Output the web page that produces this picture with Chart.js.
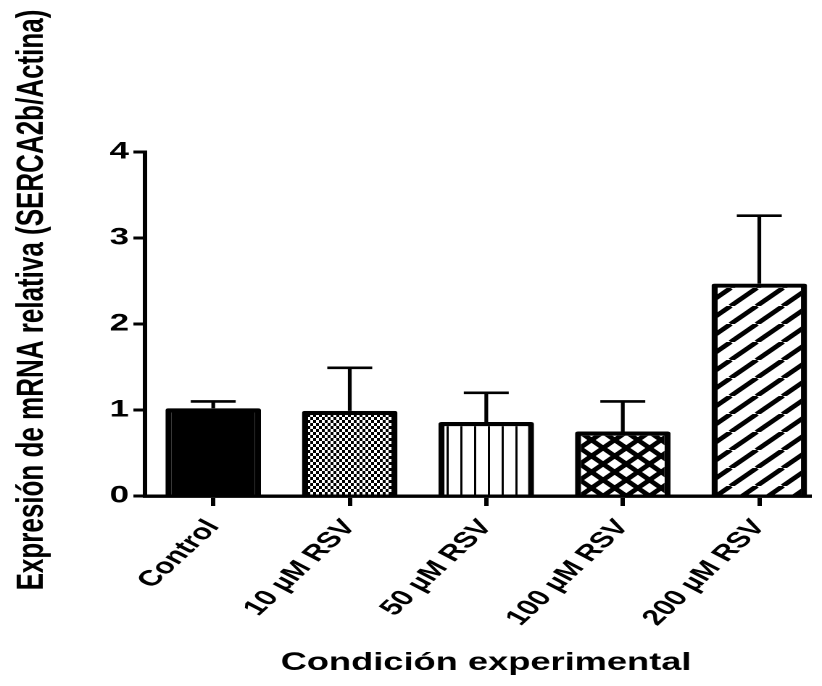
<!DOCTYPE html>
<html>
<head>
<meta charset="utf-8">
<script src="https://cdn.jsdelivr.net/npm/chart.js@4/dist/chart.umd.min.js"></script>
<style>
  html, body { margin: 0; padding: 0; background: #fff; overflow: hidden; }
  /* the figure is drawn at its native width and widened horizontally */
  #frame { width: 567px; height: 686px; transform: scaleX(1.4497); transform-origin: 0 0; }
  #c { display: block; }
</style>
</head>
<body>
<div id="frame"><canvas id="c" width="567" height="686" style="width:567px;height:686px"></canvas></div>
<script>
// Relative SERCA2b mRNA expression per condition (mean and upper SEM)
const categories = ['Control', '10 µM RSV', '50 µM RSV', '100 µM RSV', '200 µM RSV'];
const means = [1.02, 0.99, 0.86, 0.75, 2.47];
const errUp = [0.08, 0.50, 0.34, 0.35, 0.79];
const yTickValues = [0, 1, 2, 3, 4];
const yTitle = 'Expresión de mRNA relativa (SERCA2b/Actina)';
const xTitle = 'Condición experimental';

const DPR = 2;
const FONT = '"Liberation Sans", Arial, Helvetica, sans-serif';

// Fill patterns: tiles are painted at device resolution
function makePattern(w, h, paint) {
  const tile = document.createElement('canvas');
  tile.width = Math.round(w * DPR);
  tile.height = Math.round(h * DPR);
  const t = tile.getContext('2d');
  t.scale(DPR, DPR);
  t.fillStyle = '#fff';
  t.fillRect(0, 0, w, h);
  t.fillStyle = '#000';
  t.strokeStyle = '#000';
  paint(t, w, h);
  const p = t.createPattern(tile, 'repeat');
  p.setTransform(new DOMMatrix().scale(1 / DPR));
  return p;
}

const checker = makePattern(4, 6, (t) => {
  t.fillRect(0, 0, 2, 3);
  t.fillRect(2, 3, 2, 3);
});
const vLines = makePattern(9.5, 2, (t, w, h) => {
  t.fillRect(4, 0, 1.5, h);
});
const crossHatch = makePattern(16, 16, (t, w, h) => {
  t.lineWidth = 4;
  for (let k = -1; k <= 1; k++) {
    t.beginPath(); t.moveTo(k * w, 0); t.lineTo(k * w + w, h); t.stroke();
    t.beginPath(); t.moveTo(k * w, h); t.lineTo(k * w + w, 0); t.stroke();
  }
});
const diagStripes = makePattern(18, 18, (t, w, h) => {
  t.lineWidth = 4;
  for (let k = -1; k <= 1; k++) {
    t.beginPath(); t.moveTo(k * w, h); t.lineTo(k * w + w, 0); t.stroke();
  }
});
const fills = ['#000', checker, vLines, crossHatch, diagStripes];

// One-sided (upper) SEM whiskers
const errorBars = {
  id: 'errorBars',
  afterDatasetsDraw(chart) {
    const ctx = chart.ctx;
    const yScale = chart.scales.y;
    const meta = chart.getDatasetMeta(0);
    ctx.save();
    ctx.strokeStyle = '#000';
    ctx.lineWidth = 2.6;
    ctx.lineCap = 'butt';
    meta.data.forEach((bar, i) => {
      const yTop = yScale.getPixelForValue(means[i] + errUp[i]);
      ctx.beginPath();
      ctx.moveTo(bar.x, bar.y);
      ctx.lineTo(bar.x, yTop);
      ctx.moveTo(bar.x - 15.5, yTop);
      ctx.lineTo(bar.x + 15.5, yTop);
      ctx.stroke();
    });
    ctx.restore();
  }
};

// Axis titles
const axisTitles = {
  id: 'axisTitles',
  afterDraw(chart) {
    const ctx = chart.ctx;
    const area = chart.chartArea;
    ctx.save();
    ctx.fillStyle = '#000';
    ctx.textAlign = 'center';
    ctx.textBaseline = 'middle';
    ctx.font = 'bold 25px ' + FONT;
    ctx.fillText(xTitle, (area.left + area.right) / 2 + 6, 663);
    ctx.font = 'bold 26px ' + FONT;
    ctx.translate(22.5, 300);
    ctx.rotate(-Math.PI / 2);
    ctx.fillText(yTitle, 0, 0);
    ctx.restore();
  }
};

new Chart(document.getElementById('c'), {
  type: 'bar',
  data: {
    datasets: [{
      data: categories.map((_, i) => ({ x: i, y: means[i] })),
      backgroundColor: fills,
      borderColor: '#000',
      borderWidth: 4.2,
      borderRadius: 2,
      borderSkipped: 'start',
      barPercentage: 0.7,
      categoryPercentage: 1
    }]
  },
  options: {
    responsive: false,
    devicePixelRatio: DPR,
    animation: false,
    layout: { padding: { top: 152, right: 8.4, left: 0, bottom: 0 } },
    plugins: { legend: { display: false }, tooltip: { enabled: false } },
    scales: {
      x: {
        type: 'linear',
        offset: false,
        min: -0.5,
        max: 4.37,
        afterBuildTicks: (s) => { s.ticks = categories.map((_, i) => ({ value: i })); },
        afterFit: (s) => { s.height = 190; },
        border: { display: true, color: '#000', width: 3.4 },
        grid: { display: true, offset: false, drawOnChartArea: false, drawTicks: true, tickLength: 10, color: '#000', lineWidth: 3 },
        ticks: {
          autoSkip: false,
          minRotation: 53,
          maxRotation: 53,
          padding: 9,
          color: '#000',
          font: { family: FONT, weight: 'bold', size: 22 },
          callback: (v) => categories[v]
        }
      },
      y: {
        min: 0,
        max: 4,
        afterBuildTicks: (s) => { s.ticks = yTickValues.map((v) => ({ value: v })); },
        afterFit: (s) => { s.width = 100; },
        border: { display: true, color: '#000', width: 3 },
        grid: { display: true, drawOnChartArea: false, drawTicks: true, tickLength: 8, color: '#000', lineWidth: 3 },
        ticks: {
          padding: 3,
          color: '#000',
          font: { family: FONT, weight: 'bold', size: 24 }
        }
      }
    }
  },
  plugins: [errorBars, axisTitles]
});
</script>
</body>
</html>
